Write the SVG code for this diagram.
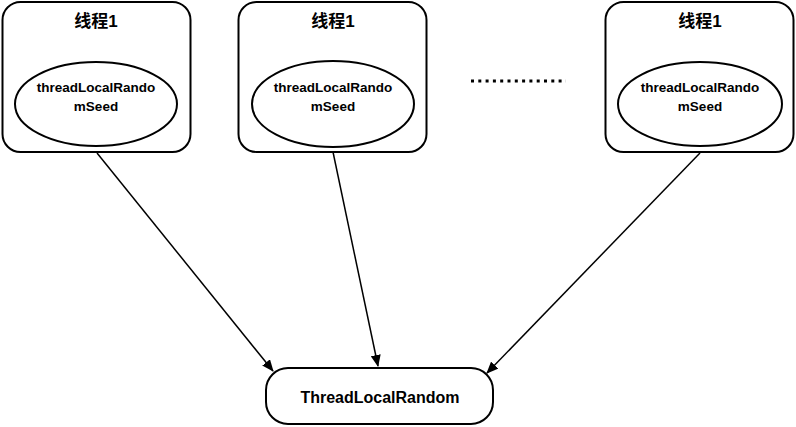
<svg xmlns="http://www.w3.org/2000/svg" width="796" height="427" viewBox="0 0 796 427">
<style>
.box{fill:#fff;stroke:#000;stroke-width:2}
.t{font-family:"Liberation Sans","Noto Sans CJK SC",sans-serif;font-weight:bold;fill:#000;text-anchor:middle}
.title{font-size:17px}
.small{font-size:13.5px}
.big{font-size:16px}
.conn{stroke:#000;stroke-width:1.5;fill:none;marker-end:url(#arr)}
</style>
<defs>
<marker id="arr" viewBox="0 0 12 10" refX="11" refY="5" markerWidth="12" markerHeight="10" markerUnits="userSpaceOnUse" orient="auto">
<path d="M0,0 L12,5 L0,10 Z" fill="#000"/>
</marker>
</defs>
<rect width="796" height="427" fill="#fff"/>
<g id="thread1">
<rect class="box" x="2.5" y="2" width="188" height="150" rx="18"/>
<text class="t title" x="96" y="27">线程1</text>
<ellipse class="box" cx="96" cy="104" rx="81" ry="42"/>
<text class="t small" x="96" y="92">threadLocalRando</text>
<text class="t small" x="96" y="111">mSeed</text>
</g>
<g id="thread2">
<rect class="box" x="238.5" y="2" width="188" height="150" rx="18"/>
<text class="t title" x="333" y="27">线程1</text>
<ellipse class="box" cx="333" cy="104" rx="81" ry="43"/>
<text class="t small" x="333" y="92">threadLocalRando</text>
<text class="t small" x="333" y="111">mSeed</text>
</g>
<g id="dots">
<line x1="471" y1="81" x2="566" y2="81" stroke="#000" stroke-width="3" stroke-dasharray="3 4.3"/>
</g>
<g id="thread3">
<rect class="box" x="605.5" y="2" width="188" height="150" rx="18"/>
<text class="t title" x="700" y="27">线程1</text>
<ellipse class="box" cx="700" cy="104" rx="82" ry="42"/>
<text class="t small" x="700" y="92">threadLocalRando</text>
<text class="t small" x="700" y="111">mSeed</text>
</g>
<g id="tlr">
<rect class="box" x="266" y="368" width="227" height="56" rx="22"/>
<text class="t big" x="380" y="403">ThreadLocalRandom</text>
</g>
<g id="connectors">
<line class="conn" x1="97" y1="153" x2="273" y2="371"/>
<line class="conn" x1="333" y1="152" x2="378" y2="366"/>
<line class="conn" x1="700" y1="153" x2="487" y2="373"/>
</g>
</svg>
